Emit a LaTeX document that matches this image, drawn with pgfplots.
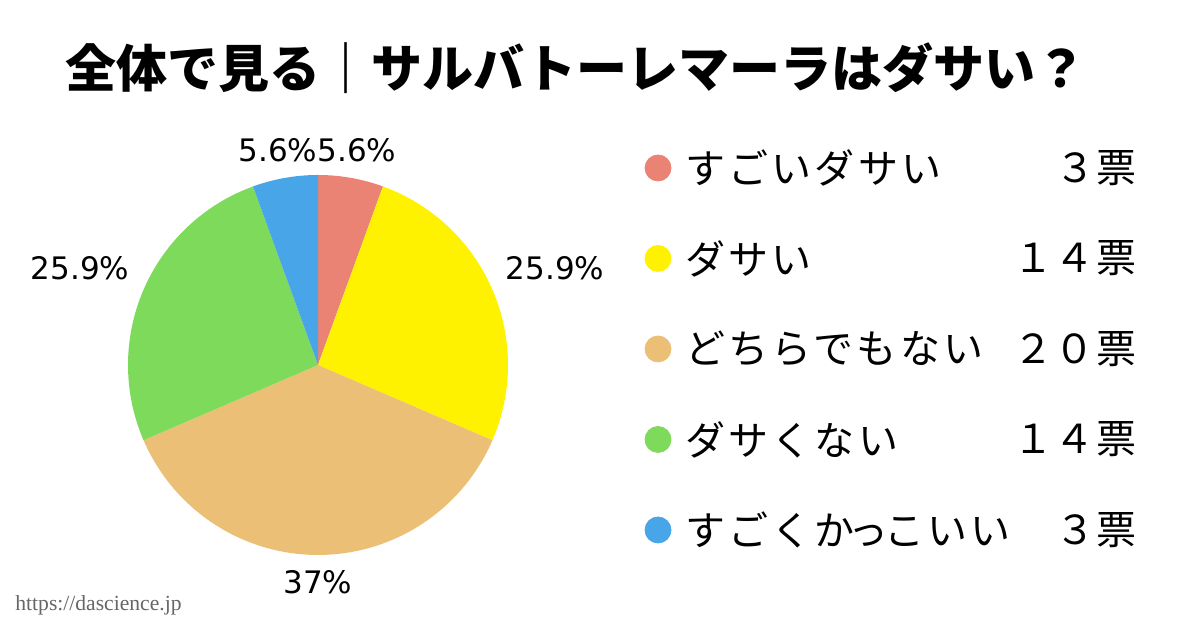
\documentclass[border=0pt]{standalone}
\usepackage{pgfplots}
\pgfplotsset{compat=1.18}
\usepackage{fontspec}
\setmainfont{Noto Sans CJK JP}
\newfontfamily\urlfont{Liberation Serif}
\newfontfamily\pctfont{DejaVu Sans}
\definecolor{cA}{HTML}{EA8374}
\definecolor{cB}{HTML}{FFF200}
\definecolor{cC}{HTML}{EBC076}
\definecolor{cD}{HTML}{7EDA5A}
\definecolor{cE}{HTML}{48A5E8}
\tikzset{lt/.style={anchor=west,inner sep=0pt,font=\fontsize{20}{22}\selectfont\addfontfeatures{LetterSpace=8}},
         ln/.style={anchor=east,inner sep=0pt,font=\fontsize{20}{22}\selectfont\addfontfeatures{LetterSpace=4}},
         pl/.style={font=\pctfont\fontsize{15.5}{18}\selectfont}}
% vote counts
\def\vA{3}\def\vB{14}\def\vC{20}\def\vD{14}\def\vE{3}
\pgfmathsetmacro{\tot}{\vA+\vB+\vC+\vD+\vE}
\pgfmathsetmacro{\aA}{90}
\pgfmathsetmacro{\aB}{\aA-360*\vA/\tot}
\pgfmathsetmacro{\aC}{\aB-360*\vB/\tot}
\pgfmathsetmacro{\aD}{\aC-360*\vC/\tot}
\pgfmathsetmacro{\aE}{\aD-360*\vD/\tot}
\pgfmathsetmacro{\aF}{\aE-360*\vE/\tot}
\def\cx{159}\def\cy{132.5}\def\R{95}
\begin{document}
\begin{tikzpicture}
\useasboundingbox (0,0) rectangle (600pt,315pt);
\begin{axis}[x=1pt,y=1pt,xmin=0,xmax=600,ymin=0,ymax=315,
  scale only axis, hide axis, clip=false, anchor=south west, at={(0,0)}]
% pie wedges
\addplot[fill=cA,draw=none,domain=\aB:\aA,samples=40,variable=\t] ({\cx+\R*cos(\t)},{\cy+\R*sin(\t)}) -- (axis cs:\cx,\cy) -- cycle;
\addplot[fill=cB,draw=none,domain=\aC:\aB,samples=80,variable=\t] ({\cx+\R*cos(\t)},{\cy+\R*sin(\t)}) -- (axis cs:\cx,\cy) -- cycle;
\addplot[fill=cC,draw=none,domain=\aD:\aC,samples=100,variable=\t] ({\cx+\R*cos(\t)},{\cy+\R*sin(\t)}) -- (axis cs:\cx,\cy) -- cycle;
\addplot[fill=cD,draw=none,domain=\aE:\aD,samples=80,variable=\t] ({\cx+\R*cos(\t)},{\cy+\R*sin(\t)}) -- (axis cs:\cx,\cy) -- cycle;
\addplot[fill=cE,draw=none,domain=\aF:\aE,samples=40,variable=\t] ({\cx+\R*cos(\t)},{\cy+\R*sin(\t)}) -- (axis cs:\cx,\cy) -- cycle;
% percentage labels
\node[pl] at (axis cs:139,240) {5.6\%};
\node[pl] at (axis cs:178.5,240) {5.6\%};
\node[pl] at (axis cs:277.5,181) {25.9\%};
\node[pl] at (axis cs:159,24) {37\%};
\node[pl] at (axis cs:40,181) {25.9\%};
% legend markers
\addplot[only marks,mark=*,mark size=6.5pt,color=cA] coordinates {(329,231)};
\addplot[only marks,mark=*,mark size=6.5pt,color=cB] coordinates {(329,185.75)};
\addplot[only marks,mark=*,mark size=6.5pt,color=cC] coordinates {(329,140.5)};
\addplot[only marks,mark=*,mark size=6.5pt,color=cD] coordinates {(329,95.25)};
\addplot[only marks,mark=*,mark size=6.5pt,color=cE] coordinates {(329,50)};
% legend text
\node[lt] at (axis cs:342.5,231) {すごいダサい};
\node[lt] at (axis cs:342.5,185.75) {ダサい};
\node[lt] at (axis cs:342.5,140.5) {どちらでもない};
\node[lt] at (axis cs:342.5,95.25) {ダサくない};
\node[lt] at (axis cs:342.5,50) {すごくか\kern-3.5ptっ\kern-2ptこいい};
\node[ln] at (axis cs:568.5,231) {３票};
\node[ln] at (axis cs:568.5,185.75) {１４票};
\node[ln] at (axis cs:568.5,140.5) {２０票};
\node[ln] at (axis cs:568.5,95.25) {１４票};
\node[ln] at (axis cs:568.5,50) {３票};
% title
\node[anchor=west,inner sep=0pt,font=\fontsize{25.5}{28}\selectfont\bfseries] at (axis cs:32.5,281) {全体で見る｜サルバトーレマーラはダサい？};
% url
\node[anchor=west,inner sep=0pt,text=black!60,font=\urlfont\fontsize{10.8}{12}\selectfont] at (axis cs:7.5,12.5) {https://dascience.jp};
\end{axis}
\end{tikzpicture}
\end{document}
